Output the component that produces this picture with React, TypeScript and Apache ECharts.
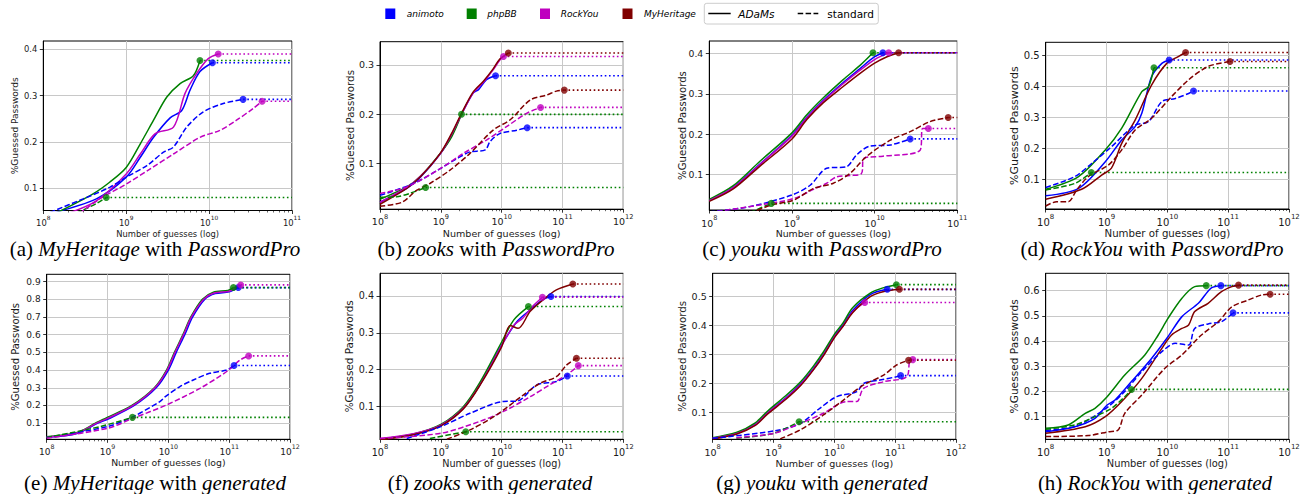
import React, { useEffect, useRef } from 'react';
import * as echarts from 'echarts';

const FONT = 'DejaVu Sans';
const SERIF = 'Liberation Serif';
const BLUE = '#0000ff';
const GREEN = '#008000';
const MAGENTA = '#bf00bf';
const MAROON = '#800000';

// x values are log10(number of guesses); y values are fraction of guessed passwords.
// The last point of each curve is the end marker.

// (a) MyHeritage with PasswordPro
const a_animoto_adams = [[8.08, 0.045], [8.64, 0.077], [9.0, 0.124], [9.17, 0.167], [9.33, 0.21], [9.53, 0.252], [9.67, 0.268], [9.77, 0.312], [9.89, 0.352], [10.04, 0.371]];
const a_phpbb_adams = [[8.15, 0.046], [8.6, 0.088], [8.8, 0.113], [9.0, 0.145], [9.17, 0.196], [9.33, 0.247], [9.49, 0.297], [9.65, 0.326], [9.81, 0.343], [9.89, 0.376]];
const a_rockyou_adams = [[8.3, 0.046], [8.64, 0.073], [9.0, 0.131], [9.17, 0.174], [9.35, 0.218], [9.57, 0.232], [9.71, 0.305], [9.85, 0.348], [9.99, 0.38], [10.11, 0.39]];
const a_animoto_std = [[8.08, 0.048], [8.48, 0.077], [8.8, 0.102], [9.0, 0.124], [9.25, 0.149], [9.45, 0.178], [9.57, 0.189], [9.73, 0.232], [9.93, 0.265], [10.17, 0.283], [10.41, 0.292]];
const a_phpbb_std = [[8.4, 0.046], [8.64, 0.067], [8.76, 0.08]];
const a_rockyou_std = [[8.44, 0.046], [8.68, 0.077], [9.0, 0.109], [9.29, 0.142], [9.57, 0.174], [9.89, 0.21], [10.13, 0.225], [10.33, 0.247], [10.53, 0.272], [10.64, 0.288]];

// (b) zooks with PasswordPro
const b_animoto_adams = [[8, 0.022], [8.44, 0.05], [8.66, 0.072], [8.99, 0.12], [9.18, 0.158], [9.34, 0.2], [9.53, 0.243], [9.62, 0.25], [9.75, 0.27], [9.9, 0.278]];
const b_phpbb_adams = [[8, 0.028], [8.44, 0.053], [8.66, 0.074], [8.99, 0.121], [9.18, 0.155], [9.34, 0.2]];
const b_rockyou_adams = [[8, 0.022], [8.44, 0.052], [8.66, 0.074], [8.99, 0.12], [9.18, 0.16], [9.34, 0.2], [9.53, 0.243], [9.7, 0.265], [9.86, 0.29], [9.97, 0.31], [10.03, 0.317]];
const b_myheritage_adams = [[8, 0.018], [8.44, 0.05], [8.66, 0.073], [8.99, 0.121], [9.18, 0.162], [9.34, 0.202], [9.53, 0.245], [9.7, 0.267], [9.86, 0.292], [9.97, 0.312], [10.11, 0.324]];
const b_animoto_std = [[8, 0.036], [8.55, 0.06], [8.99, 0.09], [9.26, 0.11], [9.48, 0.124], [9.73, 0.128], [9.81, 0.145], [9.97, 0.161], [10.25, 0.168], [10.42, 0.173]];
const b_phpbb_std = [[8, 0.032], [8.27, 0.033], [8.49, 0.04], [8.75, 0.052]];
const b_rockyou_std = [[8, 0.04], [8.44, 0.053], [8.99, 0.09], [9.37, 0.121], [9.75, 0.148], [10.08, 0.175], [10.41, 0.202], [10.64, 0.214]];
const b_myheritage_std = [[8, 0.014], [8.36, 0.022], [8.6, 0.046], [8.82, 0.06], [9.15, 0.087], [9.48, 0.121], [9.86, 0.168], [10.14, 0.189], [10.47, 0.229], [10.74, 0.239], [10.9, 0.247], [11.03, 0.249]];

// (c) youku with PasswordPro
const c_animoto_adams = [[8, 0.035], [8.29, 0.068], [8.61, 0.125], [9.0, 0.197], [9.18, 0.242], [9.38, 0.284], [9.62, 0.328], [9.82, 0.362], [10.0, 0.392], [10.1, 0.402]];
const c_phpbb_adams = [[8, 0.038], [8.29, 0.072], [8.61, 0.132], [9.0, 0.203], [9.18, 0.248], [9.38, 0.29], [9.62, 0.335], [9.82, 0.37], [9.98, 0.402]];
const c_rockyou_adams = [[8, 0.035], [8.29, 0.067], [8.61, 0.124], [9.0, 0.195], [9.18, 0.24], [9.38, 0.282], [9.62, 0.325], [9.82, 0.358], [10.0, 0.385], [10.17, 0.402]];
const c_myheritage_adams = [[8, 0.033], [8.29, 0.064], [8.61, 0.12], [9.0, 0.188], [9.18, 0.236], [9.38, 0.278], [9.62, 0.318], [9.82, 0.35], [10.0, 0.376], [10.15, 0.392], [10.29, 0.402]];
const c_animoto_std = [[8, 0.007], [8.49, 0.02], [9.0, 0.049], [9.22, 0.073], [9.42, 0.115], [9.66, 0.119], [9.78, 0.148], [9.94, 0.17], [10.19, 0.173], [10.43, 0.188]];
const c_phpbb_std = [[8.49, 0.005], [8.75, 0.028]];
const c_rockyou_std = [[8, 0.005], [8.61, 0.024], [9.02, 0.04], [9.26, 0.063], [9.42, 0.078], [9.54, 0.094], [9.7, 0.097], [9.84, 0.102], [9.87, 0.14], [10.1, 0.145], [10.55, 0.16], [10.58, 0.214], [10.65, 0.214]];
const c_myheritage_std = [[8.49, 0.003], [8.75, 0.024], [9.02, 0.036], [9.26, 0.065], [9.5, 0.078], [9.7, 0.102], [9.9, 0.144], [10.19, 0.185], [10.43, 0.206], [10.67, 0.231], [10.89, 0.241]];

// (d) RockYou with PasswordPro
const d_animoto_adams = [[8, 0.048], [8.54, 0.072], [8.98, 0.158], [9.25, 0.228], [9.47, 0.271], [9.58, 0.314], [9.74, 0.432], [9.91, 0.475], [10.03, 0.486]];
const d_phpbb_adams = [[8, 0.069], [8.54, 0.11], [8.98, 0.196], [9.25, 0.266], [9.58, 0.384], [9.69, 0.4], [9.78, 0.461]];
const d_myheritage_adams = [[8, 0.037], [8.59, 0.069], [8.92, 0.115], [9.08, 0.137], [9.25, 0.217], [9.47, 0.292], [9.74, 0.405], [9.99, 0.475], [10.18, 0.497], [10.3, 0.51]];
const d_animoto_std = [[8, 0.075], [8.48, 0.11], [8.76, 0.153], [9.08, 0.206], [9.47, 0.276], [9.69, 0.287], [9.91, 0.352], [10.13, 0.362], [10.35, 0.378], [10.43, 0.386]];
const d_phpbb_std = [[8, 0.067], [8.48, 0.088], [8.75, 0.123]];
const d_myheritage_std = [[8, 0.015], [8.18, 0.029], [8.37, 0.029], [8.51, 0.067], [8.7, 0.11], [9.03, 0.147], [9.25, 0.196], [9.47, 0.26], [9.74, 0.298], [10.07, 0.368], [10.35, 0.422], [10.67, 0.465], [11.03, 0.481]];

// (e) MyHeritage with generated
const e_animoto_adams = [[8, 0.02], [8.5, 0.042], [8.84, 0.1], [9.02, 0.125], [9.44, 0.2], [9.8, 0.3], [10.0, 0.4], [10.13, 0.5], [10.27, 0.6], [10.4, 0.7], [10.6, 0.8], [10.77, 0.832], [11.0, 0.842], [11.15, 0.866]];
const e_phpbb_adams = [[8, 0.024], [8.5, 0.047], [8.8, 0.1], [8.98, 0.13], [9.4, 0.2], [9.77, 0.3], [9.97, 0.4], [10.1, 0.5], [10.24, 0.6], [10.37, 0.7], [10.56, 0.8], [10.74, 0.84], [10.98, 0.85], [11.07, 0.866]];
const e_rockyou_adams = [[8, 0.022], [8.5, 0.045], [8.82, 0.1], [9.0, 0.127], [9.42, 0.2], [9.78, 0.3], [9.98, 0.4], [10.11, 0.5], [10.25, 0.6], [10.38, 0.7], [10.58, 0.8], [10.75, 0.835], [11.0, 0.845], [11.1, 0.865], [11.19, 0.881]];
const e_animoto_std = [[8, 0.019], [9.0, 0.081], [9.42, 0.137], [9.86, 0.222], [9.95, 0.25], [10.19, 0.307], [10.41, 0.344], [10.68, 0.382], [10.96, 0.4], [11.08, 0.426]];
const e_phpbb_std = [[8, 0.019], [8.88, 0.081], [9.41, 0.133]];
const e_rockyou_std = [[8, 0.015], [9.0, 0.071], [9.42, 0.128], [9.97, 0.203], [10.52, 0.297], [10.96, 0.392], [11.18, 0.457], [11.32, 0.48]];

// (f) zooks with generated
const f_animoto_adams = [[8, 0.012], [8.55, 0.025], [9.0, 0.05], [9.37, 0.096], [9.64, 0.159], [10.0, 0.267], [10.25, 0.33], [10.47, 0.362], [10.68, 0.39], [10.81, 0.398]];
const f_phpbb_adams = [[8, 0.012], [8.55, 0.026], [9.0, 0.052], [9.37, 0.1], [9.64, 0.165], [10.0, 0.275], [10.2, 0.335], [10.44, 0.371]];
const f_rockyou_adams = [[8, 0.014], [8.55, 0.027], [9.0, 0.05], [9.37, 0.096], [9.64, 0.158], [10.0, 0.265], [10.2, 0.32], [10.35, 0.34], [10.5, 0.37], [10.67, 0.396]];
const f_myheritage_adams = [[8, 0.01], [8.55, 0.024], [9.0, 0.048], [9.37, 0.094], [9.64, 0.157], [10.0, 0.262], [10.14, 0.32], [10.27, 0.312], [10.47, 0.358], [10.68, 0.389], [10.9, 0.416], [11.17, 0.432]];
const f_animoto_std = [[8.44, 0.014], [9.0, 0.046], [9.48, 0.082], [10.03, 0.114], [10.25, 0.115], [10.58, 0.159], [10.9, 0.168], [11.08, 0.183]];
const f_phpbb_std = [[8.82, 0.014], [9.41, 0.032]];
const f_rockyou_std = [[8, 0.014], [9.0, 0.028], [9.64, 0.06], [10.03, 0.087], [10.47, 0.127], [10.79, 0.159], [11.07, 0.186], [11.26, 0.211]];
const f_myheritage_std = [[9.1, 0.012], [9.48, 0.037], [9.92, 0.078], [10.36, 0.132], [10.63, 0.163], [10.9, 0.181], [11.07, 0.213], [11.23, 0.231]];

// (g) youku with generated
const g_animoto_adams = [[8, 0.012], [8.4, 0.03], [8.7, 0.06], [8.9, 0.1], [9.2, 0.15], [9.45, 0.2], [9.65, 0.25], [9.82, 0.3], [10.01, 0.366], [10.14, 0.4], [10.3, 0.45], [10.59, 0.505], [10.87, 0.523]];
const g_phpbb_adams = [[8, 0.014], [8.4, 0.033], [8.7, 0.065], [8.9, 0.105], [9.2, 0.158], [9.45, 0.207], [9.65, 0.258], [9.82, 0.308], [10.01, 0.372], [10.14, 0.407], [10.3, 0.46], [10.59, 0.51], [10.8, 0.528], [11.02, 0.539]];
const g_rockyou_adams = [[8, 0.012], [8.4, 0.029], [8.7, 0.058], [8.9, 0.098], [9.2, 0.148], [9.45, 0.197], [9.65, 0.247], [9.82, 0.297], [10.01, 0.362], [10.14, 0.396], [10.3, 0.445], [10.5, 0.478]];
const g_myheritage_adams = [[8, 0.01], [8.4, 0.027], [8.7, 0.056], [8.9, 0.095], [9.2, 0.145], [9.45, 0.194], [9.65, 0.245], [9.82, 0.295], [10.01, 0.36], [10.14, 0.395], [10.3, 0.443], [10.59, 0.498], [10.8, 0.515], [11.07, 0.523]];
const g_animoto_std = [[8, 0.012], [9.0, 0.037], [9.44, 0.063], [9.76, 0.115], [10.04, 0.155], [10.37, 0.172], [10.48, 0.2], [10.75, 0.212], [11.02, 0.223], [11.09, 0.227]];
const g_phpbb_std = [[8.39, 0.012], [9.0, 0.029], [9.42, 0.069]];
const g_rockyou_std = [[8.39, 0.014], [9.0, 0.029], [9.44, 0.063], [9.82, 0.098], [10.2, 0.138], [10.37, 0.138], [10.48, 0.183], [10.81, 0.206], [11.19, 0.223], [11.24, 0.28], [11.29, 0.282]];
const g_myheritage_std = [[9.11, 0.01], [9.44, 0.041], [9.82, 0.092], [10.15, 0.143], [10.48, 0.195], [10.81, 0.229], [11.02, 0.263], [11.22, 0.28]];

// (h) RockYou with generated
const h_animoto_adams = [[8, 0.04], [8.48, 0.06], [8.81, 0.093], [9.01, 0.146], [9.14, 0.166], [9.41, 0.239], [9.74, 0.331], [10.01, 0.417], [10.24, 0.497], [10.51, 0.55], [10.62, 0.583], [10.73, 0.612], [10.88, 0.62]];
const h_phpbb_adams = [[8, 0.054], [8.37, 0.067], [8.65, 0.113], [8.81, 0.133], [9.01, 0.179], [9.3, 0.265], [9.63, 0.345], [9.85, 0.424], [10.01, 0.49], [10.24, 0.57], [10.45, 0.616], [10.64, 0.62]];
const h_myheritage_adams = [[8, 0.034], [8.65, 0.06], [8.98, 0.1], [9.25, 0.16], [9.58, 0.252], [9.91, 0.371], [10.07, 0.424], [10.24, 0.45], [10.35, 0.464], [10.45, 0.517], [10.67, 0.55], [10.89, 0.596], [11.06, 0.616], [11.17, 0.622]];
const h_animoto_std = [[8, 0.045], [8.48, 0.06], [8.7, 0.087], [9.03, 0.14], [9.3, 0.2], [9.58, 0.279], [9.91, 0.358], [10.13, 0.391], [10.35, 0.384], [10.45, 0.45], [10.67, 0.468], [10.89, 0.477], [11.08, 0.512]];
const h_phpbb_std = [[8, 0.05], [8.48, 0.067], [8.81, 0.1], [9.08, 0.133], [9.3, 0.179], [9.41, 0.208]];
const h_myheritage_std = [[8, 0.021], [8.7, 0.025], [9.03, 0.04], [9.19, 0.047], [9.3, 0.113], [9.58, 0.186], [9.96, 0.292], [10.24, 0.345], [10.56, 0.424], [10.84, 0.477], [11.06, 0.536], [11.33, 0.563], [11.55, 0.583], [11.69, 0.586]];

const legendDatasets = ['animoto', 'phpBB', 'RockYou', 'MyHeritage'];
const legendColors = [BLUE, GREEN, MAGENTA, MAROON];

type Curve = { color: string; dashed: boolean; data: number[][] };
const C = (color: string, dashed: boolean, data: number[][]): Curve => ({ color, dashed, data });

const panels = [
  { left: 43.3, top: 41, right: 292, bottom: 210.5, xMax: 11, yMin: 0.052, yMax: 0.418, yTicks: [0.1, 0.2, 0.3, 0.4], font: 8.4, nameFont: 9, yNameCx: 15, caption: ['(a) ', 'MyHeritage', ' with ', 'PasswordPro'], capX: 155, capY: 249,
    curves: [C(BLUE, false, a_animoto_adams), C(GREEN, false, a_phpbb_adams), C(MAGENTA, false, a_rockyou_adams), C(BLUE, true, a_animoto_std), C(GREEN, true, a_phpbb_std), C(MAGENTA, true, a_rockyou_std)] },
  { left: 380, top: 41.7, right: 623.3, bottom: 209.2, xMax: 12, yMin: 0.008, yMax: 0.347, yTicks: [0.1, 0.2, 0.3], font: 9.5, nameFont: 10.3, yNameCx: 349, caption: ['(b) ', 'zooks', ' with ', 'PasswordPro'], capX: 496, capY: 249,
    curves: [C(BLUE, false, b_animoto_adams), C(GREEN, false, b_phpbb_adams), C(MAGENTA, false, b_rockyou_adams), C(MAROON, false, b_myheritage_adams), C(BLUE, true, b_animoto_std), C(GREEN, true, b_phpbb_std), C(MAGENTA, true, b_rockyou_std), C(MAROON, true, b_myheritage_std)] },
  { left: 709.3, top: 41, right: 957.3, bottom: 210, xMax: 11, yMin: 0.0116, yMax: 0.431, yTicks: [0.1, 0.2, 0.3, 0.4], font: 9.3, nameFont: 10.1, yNameCx: 681.7, caption: ['(c) ', 'youku', ' with ', 'PasswordPro'], capX: 822, capY: 249,
    curves: [C(BLUE, false, c_animoto_adams), C(GREEN, false, c_phpbb_adams), C(MAGENTA, false, c_rockyou_adams), C(MAROON, false, c_myheritage_adams), C(BLUE, true, c_animoto_std), C(GREEN, true, c_phpbb_std), C(MAGENTA, true, c_rockyou_std), C(MAROON, true, c_myheritage_std)] },
  { left: 1045.7, top: 42.3, right: 1289, bottom: 209, xMax: 12, yMin: 0.0054, yMax: 0.543, yTicks: [0.1, 0.2, 0.3, 0.4, 0.5], font: 10, nameFont: 11, yNameCx: 1014, caption: ['(d) ', 'RockYou', ' with ', 'PasswordPro'], capX: 1152, capY: 249,
    curves: [C(BLUE, false, d_animoto_adams), C(GREEN, false, d_phpbb_adams), C(MAROON, false, d_myheritage_adams), C(BLUE, true, d_animoto_std), C(GREEN, true, d_phpbb_std), C(MAROON, true, d_myheritage_std)] },
  { left: 46.7, top: 274.3, right: 290, bottom: 439.3, xMax: 12, yMin: 0.009, yMax: 0.941, yTicks: [0.1, 0.2, 0.3, 0.4, 0.5, 0.6, 0.7, 0.8, 0.9], font: 9, nameFont: 10, yNameCx: 15.3, caption: ['(e) ', 'MyHeritage', ' with ', 'generated'], capX: 155, capY: 483,
    curves: [C(BLUE, false, e_animoto_adams), C(GREEN, false, e_phpbb_adams), C(MAGENTA, false, e_rockyou_adams), C(BLUE, true, e_animoto_std), C(GREEN, true, e_phpbb_std), C(MAGENTA, true, e_rockyou_std)] },
  { left: 380, top: 273.3, right: 623.3, bottom: 439.3, xMax: 12, yMin: 0.0116, yMax: 0.461, yTicks: [0.1, 0.2, 0.3, 0.4], font: 9.6, nameFont: 10.4, yNameCx: 348.7, caption: ['(f) ', 'zooks', ' with ', 'generated'], capX: 490, capY: 483,
    curves: [C(BLUE, false, f_animoto_adams), C(GREEN, false, f_phpbb_adams), C(MAGENTA, false, f_rockyou_adams), C(MAROON, false, f_myheritage_adams), C(BLUE, true, f_animoto_std), C(GREEN, true, f_phpbb_std), C(MAGENTA, true, f_rockyou_std), C(MAROON, true, f_myheritage_std)] },
  { left: 712.7, top: 273.3, right: 956, bottom: 439.3, xMax: 12, yMin: 0.0086, yMax: 0.578, yTicks: [0.1, 0.2, 0.3, 0.4, 0.5], font: 9.5, nameFont: 10.3, yNameCx: 681, caption: ['(g) ', 'youku', ' with ', 'generated'], capX: 822, capY: 483,
    curves: [C(BLUE, false, g_animoto_adams), C(GREEN, false, g_phpbb_adams), C(MAGENTA, false, g_rockyou_adams), C(MAROON, false, g_myheritage_adams), C(BLUE, true, g_animoto_std), C(GREEN, true, g_phpbb_std), C(MAGENTA, true, g_rockyou_std), C(MAROON, true, g_myheritage_std)] },
  { left: 1045.7, top: 273.3, right: 1289, bottom: 439.3, xMax: 12, yMin: 0.01, yMax: 0.669, yTicks: [0.1, 0.2, 0.3, 0.4, 0.5, 0.6], font: 10, nameFont: 10.6, yNameCx: 1014, caption: ['(h) ', 'RockYou', ' with ', 'generated'], capX: 1155, capY: 483,
    curves: [C(BLUE, false, h_animoto_adams), C(GREEN, false, h_phpbb_adams), C(MAROON, false, h_myheritage_adams), C(BLUE, true, h_animoto_std), C(GREEN, true, h_phpbb_std), C(MAROON, true, h_myheritage_std)] },
];

function minorTicks(xMax: number): number[] {
  const out: number[] = [];
  for (let n = 8; n < xMax; n++) for (let k = 2; k <= 9; k++) out.push(n + Math.log10(k));
  return out;
}

function buildOption() {
  const grid: any[] = [];
  const xAxis: any[] = [];
  const yAxis: any[] = [];
  const series: any[] = [];
  const graphic: any[] = [];
  const TXT = '#1a1a1a';

  panels.forEach((p, i) => {
    const width = p.right - p.left;
    const height = p.bottom - p.top;
    grid.push({ left: p.left, top: p.top, width, height, show: true, borderColor: '#000', borderWidth: 1, backgroundColor: 'transparent' });
    const f = p.font;
    xAxis.push({
      gridIndex: i, type: 'value', min: 8, max: p.xMax, interval: 1, position: 'bottom',
      name: 'Number of guesses (log)', nameLocation: 'middle', nameGap: 19,
      nameTextStyle: { fontFamily: FONT, fontSize: p.nameFont * 0.93, color: TXT },
      axisLine: { show: true, onZero: false, lineStyle: { color: '#000', width: 1 } },
      axisTick: { show: true, inside: false, length: 3.5, lineStyle: { color: '#000', width: 0.8 } },
      axisLabel: {
        margin: 4.5, color: TXT,
        formatter: (v: number) => '{b|10}{s|' + Math.round(v) + '}',
        rich: {
          b: { fontSize: f, fontFamily: FONT, color: TXT, lineHeight: f * 1.4, verticalAlign: 'bottom' },
          s: { fontSize: f * 0.7, fontFamily: FONT, color: TXT, lineHeight: f * 1.4, verticalAlign: 'top' },
        },
      },
      splitLine: { show: true, lineStyle: { color: '#c8c8c8', width: 1 } },
    });
    xAxis.push({
      gridIndex: i, type: 'value', min: 8, max: p.xMax, position: 'bottom',
      axisLine: { show: false, onZero: false },
      axisTick: { show: true, inside: false, length: 2, customValues: minorTicks(p.xMax), lineStyle: { color: '#000', width: 0.6 } },
      axisLabel: { show: false },
      splitLine: { show: false },
    });
    yAxis.push({
      gridIndex: i, type: 'value', min: p.yMin, max: p.yMax,
      name: '%Guessed Passwords', nameLocation: 'middle', nameGap: (p.left - p.yNameCx) - p.nameFont * 0.55,
      nameMoveOverlap: false,
      nameTextStyle: { fontFamily: FONT, fontSize: p.nameFont, color: TXT },
      axisLine: { show: true, onZero: false, lineStyle: { color: '#000', width: 1 } },
      axisTick: { show: true, inside: false, length: 3.5, customValues: p.yTicks, lineStyle: { color: '#000', width: 0.8 } },
      axisLabel: { margin: 6, customValues: p.yTicks, fontFamily: FONT, fontSize: f, color: TXT, formatter: (v: number) => v.toFixed(1) },
      splitLine: { show: true, lineStyle: { color: '#c8c8c8', width: 1 } },
    });

    const xi = i * 2;
    p.curves.forEach((c) => {
      const last = c.data[c.data.length - 1];
      series.push({
        type: 'line', xAxisIndex: xi, yAxisIndex: i, data: c.data, symbol: 'none', showSymbol: false,
        smooth: 0.3, silent: true, z: 3,
        lineStyle: { color: c.color, width: 1.5, type: c.dashed ? [5.5, 2.4] : 'solid', cap: 'butt' },
      });
      series.push({
        type: 'line', xAxisIndex: xi, yAxisIndex: i, data: [[last[0], last[1]], [p.xMax, last[1]]], symbol: 'none', silent: true, z: 2,
        lineStyle: { color: c.color, width: 1.6, type: [1.6, 2.6], cap: 'butt' },
      });
      series.push({
        type: 'scatter', xAxisIndex: xi, yAxisIndex: i, data: [[last[0], last[1]]], symbol: 'circle', symbolSize: 7, silent: true, z: 4,
        itemStyle: { color: c.color, borderWidth: 0 },
      });
    });

    graphic.push({
      type: 'text', x: p.capX, y: p.capY,
      style: {
        text: '{r|' + p.caption[0] + '}{i|' + p.caption[1] + '}{r|' + p.caption[2] + '}{i|' + p.caption[3] + '}',
        align: 'center', verticalAlign: 'middle',
        rich: {
          r: { fontFamily: SERIF, fontSize: 21, fill: '#000', color: '#000' },
          i: { fontFamily: SERIF, fontSize: 21, fontStyle: 'italic', fill: '#000', color: '#000' },
        },
      },
    });
  });

  // legend
  const sqX = [390.3, 471.7, 545, 627.5];
  const txX = [406.7, 487.3, 560.7, 644];
  legendDatasets.forEach((name, k) => {
    graphic.push({ type: 'rect', shape: { x: sqX[k] - 5, y: 8.5, width: 10, height: 10.5 }, style: { fill: legendColors[k] } });
    graphic.push({ type: 'text', x: txX[k], y: 13.7, style: { text: name, fontFamily: FONT, fontStyle: 'italic', fontSize: 9, fill: '#000', verticalAlign: 'middle', align: 'left' } });
  });
  graphic.push({ type: 'rect', shape: { x: 704.3, y: 3.3, width: 174, height: 20.7, r: 2.5 }, style: { fill: '#fff', stroke: '#cccccc', lineWidth: 1 } });
  graphic.push({ type: 'line', shape: { x1: 708.3, y1: 13.5, x2: 730.7, y2: 13.5 }, style: { stroke: '#000', lineWidth: 1.5 } });
  graphic.push({ type: 'text', x: 738.3, y: 13.5, style: { text: 'ADaMs', fontFamily: FONT, fontStyle: 'italic', fontSize: 10.5, fill: '#000', verticalAlign: 'middle', align: 'left' } });
  graphic.push({ type: 'line', shape: { x1: 797.7, y1: 13.5, x2: 818.3, y2: 13.5 }, style: { stroke: '#000', lineWidth: 1.5, lineDash: [5.5, 2.4] } });
  graphic.push({ type: 'text', x: 827.3, y: 13.5, style: { text: 'standard', fontFamily: FONT, fontSize: 10.5, fill: '#000', verticalAlign: 'middle', align: 'left' } });

  return { animation: false, backgroundColor: '#fff', grid, xAxis, yAxis, series, graphic };
}

export default function App() {
  const ref = useRef<HTMLDivElement>(null);
  useEffect(() => {
    if (!ref.current) return;
    const chart = echarts.init(ref.current, null, { renderer: 'svg', width: 1307, height: 494 });
    chart.setOption(buildOption() as any);
    return () => chart.dispose();
  }, []);
  return <div ref={ref} style={{ position: 'absolute', left: 0, top: 0, width: 1307, height: 494, background: '#fff' }} />;
}
